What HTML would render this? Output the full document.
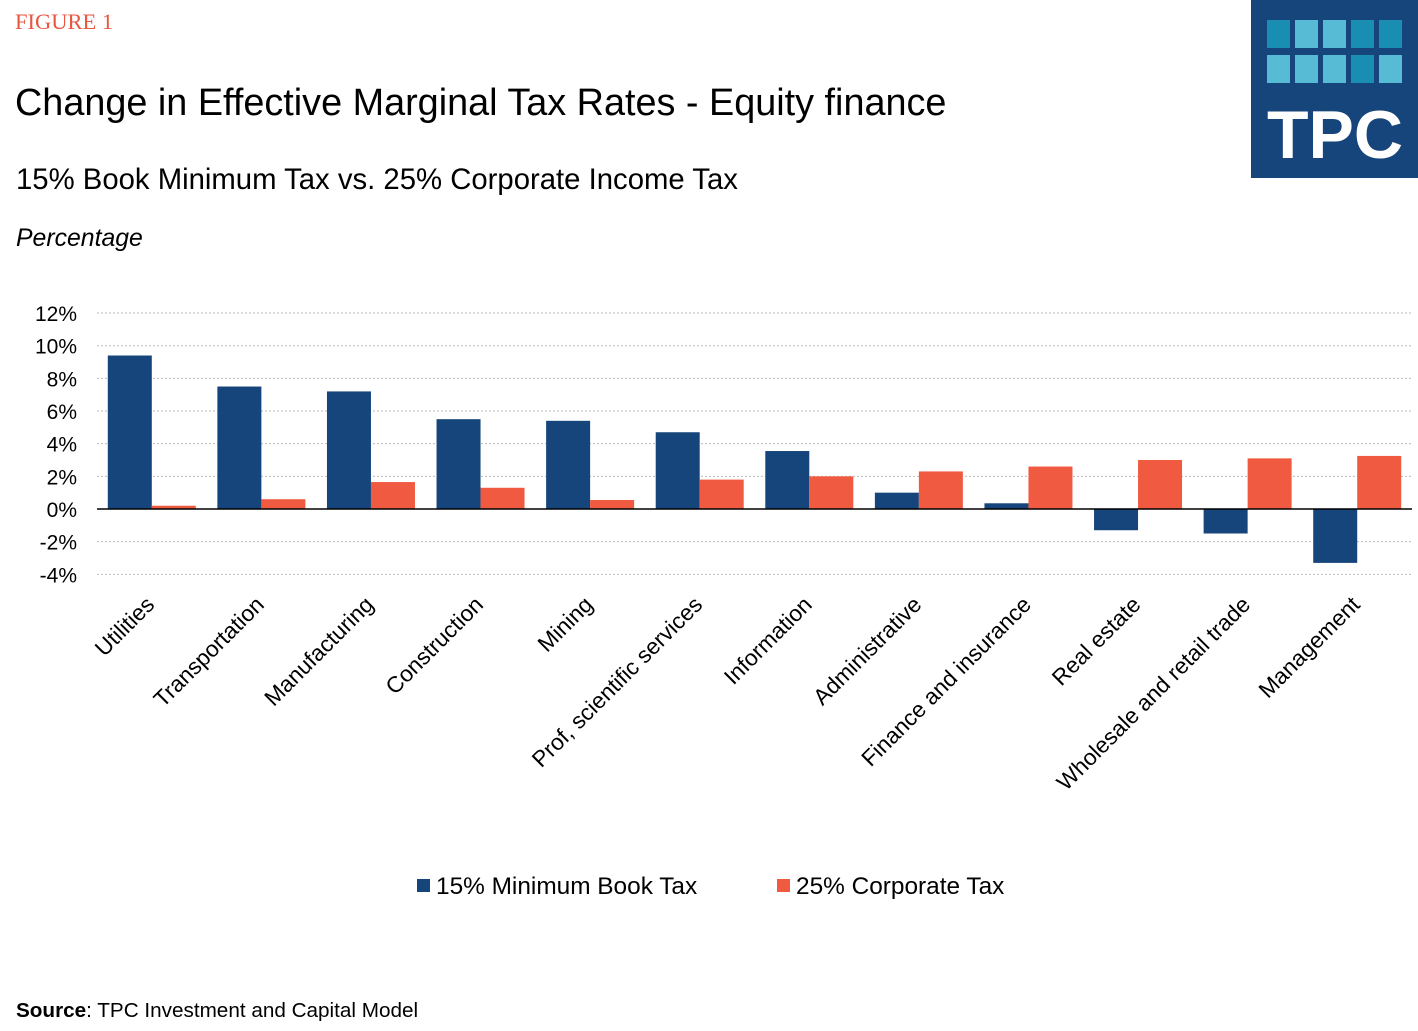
<!DOCTYPE html>
<html><head><meta charset="utf-8"><style>
body{margin:0;width:1418px;height:1031px;background:#fff;font-family:"Liberation Sans",Arial,sans-serif;overflow:hidden;position:relative}
.a{position:absolute;white-space:nowrap}
</style></head><body>
<div class="a" style="left:15px;top:9px;font-family:'Liberation Serif',serif;font-size:22.5px;color:#e8563f">FIGURE 1</div>
<div class="a" style="left:15px;top:82px;font-size:37.8px;color:#000">Change in Effective Marginal Tax Rates - Equity finance</div>
<div class="a" style="left:16px;top:163px;font-size:29.3px;color:#000">15% Book Minimum Tax vs. 25% Corporate Income Tax</div>
<div class="a" style="left:16px;top:225px;font-size:24.8px;font-style:italic">Percentage</div>
<div class="a" style="left:16px;top:999px;font-size:20.7px"><b>Source</b>: TPC Investment and Capital Model</div>
<svg class="a" style="left:1251px;top:0" width="167" height="178">
<rect width="167" height="178" fill="#15457a"/>
<g id="sq"></g>
<text x="84" y="158" text-anchor="middle" font-family="Liberation Sans, sans-serif" font-weight="bold" font-size="68" fill="#fff">TPC</text>
</svg>
<svg id="chart" class="a" style="left:0;top:0" width="1418" height="960"></svg>
<script>
const categories=["Utilities","Transportation","Manufacturing","Construction","Mining","Prof, scientific services","Information","Administrative","Finance and insurance","Real estate","Wholesale and retail trade","Management"];
const minBookTax=[9.4,7.5,7.2,5.5,5.4,4.7,3.55,1.0,0.35,-1.3,-1.5,-3.3];
const corpTax=[0.2,0.6,1.65,1.3,0.55,1.8,2.0,2.3,2.6,3.0,3.1,3.25];
const yTicks=[12,10,8,6,4,2,0,-2,-4];
const NS="http://www.w3.org/2000/svg";
const sq=document.getElementById('sq');
const sqCols=["#1a8db3","#57bbd6","#57bbd6","#1a8db3","#1a8db3","#57bbd6","#57bbd6","#57bbd6","#1a8db3","#57bbd6"];
for(let i=0;i<10;i++){const r=document.createElementNS(NS,'rect');r.setAttribute('x',16+(i%5)*28);r.setAttribute('y',i<5?20:55);r.setAttribute('width',23);r.setAttribute('height',28);r.setAttribute('fill',sqCols[i]);


sq.appendChild(r);}
const svg=document.getElementById('chart');
const x0=97,x1=1412,band=(x1-x0)/categories.length;
const y=v=>509-v*16.33;
function el(t,a,p){const e=document.createElementNS(NS,t);for(const k in a)e.setAttribute(k,a[k]);(p||svg).appendChild(e);return e;}
yTicks.forEach(t=>{
 if(t!==0){const g=el('line',{x1:x0,x2:x1,y1:y(t),y2:y(t),stroke:'#bbb','stroke-dasharray':'2,2','stroke-width':1});
 
 }
 const l=el('text',{x:77,y:y(t)+8,'text-anchor':'end','font-size':21,fill:'#000'});l.textContent=t+'%';
 
 
});
categories.forEach((c,i)=>{
 const cx=x0+band*(i+0.5),w=44;
 const v1=minBookTax[i],v2=corpTax[i];
 const b1=el('rect',{x:cx-w,y:Math.min(y(v1),y(0)),width:w,height:Math.abs(y(v1)-y(0)),fill:'#15457a'});
 
 
 const b2=el('rect',{x:cx,y:Math.min(y(v2),y(0)),width:w,height:Math.abs(y(v2)-y(0)),fill:'#f05a40'});
 
 
 const lx=cx+4,ly=606;
 const t=el('text',{x:lx,y:ly,'text-anchor':'end','font-size':22.6,transform:`rotate(-45 ${lx} ${ly})`});t.textContent=c;
 
 
});
const ax=el('line',{x1:x0,x2:x1,y1:y(0),y2:y(0),stroke:'#000','stroke-width':1.5});


const lg=[[417,'#15457a','15% Minimum Book Tax'],[777,'#f05a40','25% Corporate Tax']];
lg.forEach(([lx,c,s])=>{
 const r=el('rect',{x:lx,y:879,width:13,height:13,fill:c});
 
 
 const t=el('text',{x:lx+19,y:894,'font-size':24.4});t.textContent=s;
 
 
});
</script>
</body></html>
